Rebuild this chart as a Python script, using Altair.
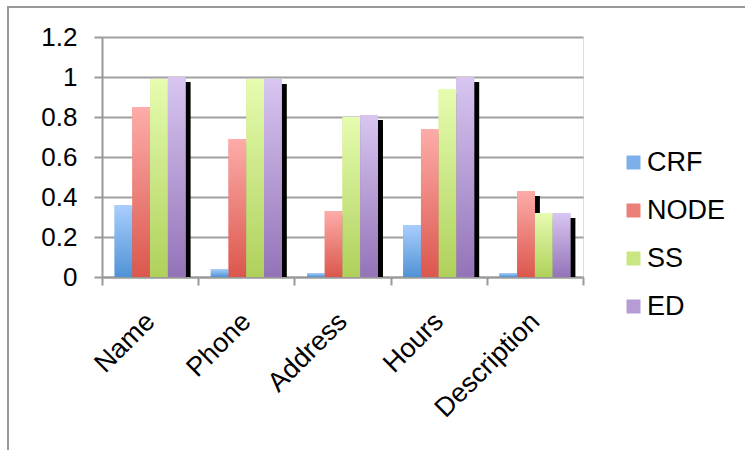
import altair as alt
import pandas as pd

categories = ["Name", "Phone", "Address", "Hours", "Description"]
series = ["CRF", "NODE", "SS", "ED"]
crf = [0.36, 0.04, 0.02, 0.26, 0.02]
node = [0.85, 0.69, 0.33, 0.74, 0.43]
ss = [0.99, 0.99, 0.80, 0.94, 0.32]
ed = [1.00, 0.99, 0.81, 1.00, 0.32]

values = {"CRF": crf, "NODE": node, "SS": ss, "ED": ed}
rows = []
for s in series:
    for c, v in zip(categories, values[s]):
        rows.append({"cat": c, "series": s, "value": v})
df = pd.DataFrame(rows)

tops = {"CRF": "#a9cefd", "NODE": "#fdaca9", "SS": "#e6fcb0", "ED": "#d8c6f1"}
bottoms = {"CRF": "#5192d5", "NODE": "#db574d", "SS": "#afd15b", "ED": "#9473b8"}
mids = ["#7cb0ea", "#ec8079", "#cae683", "#b69cd5"]

FONT = "Liberation Sans"
FS = 26

x_enc = alt.X("cat:N", sort=categories, title=None,
              scale=alt.Scale(paddingInner=0, paddingOuter=0),
              axis=alt.Axis(labelAngle=-45, labelAlign="right", labelBaseline="middle",
                            labelFontSize=27, labelFont=FONT, labelColor="black",
                            labelPadding=32, tickBand="extent", tickSize=8,
                            tickColor="#999999", tickWidth=2, domainColor="#999999",
                            domainWidth=2, grid=False))
y_enc = alt.Y("value:Q", title=None,
              scale=alt.Scale(domain=[0, 1.2], nice=False),
              axis=alt.Axis(values=[0, 0.2, 0.4, 0.6, 0.8, 1.0, 1.2],
                            labelFontSize=FS, labelFont=FONT, labelColor="black",
                            labelPadding=17, tickSize=8, tickColor="#999999",
                            tickWidth=2, domainColor="#999999", domainWidth=2,
                            gridColor="#a0a0a0", gridWidth=2,
                            labelExpr="datum.value == 1 ? '1' : format(datum.value, '.1f') == '0.0' ? '0' : format(datum.value, '.1f')"))
xo_enc = alt.XOffset("series:N", sort=series,
                     scale=alt.Scale(domain=series, paddingOuter=0.71, paddingInner=0))
xo_shadow = alt.XOffset("series:N", sort=series,
                        scale=alt.Scale(domain=series, paddingOuter=0.71, paddingInner=0,
                                        range=[5, 101.2]))

base = alt.Chart(df).encode(x=x_enc, y=y_enc, xOffset=xo_enc)

shadow = alt.Chart(df).mark_bar(color="black", yOffset=5, clip=True).encode(
    x=x_enc, y=y_enc, xOffset=xo_shadow)

legend_layer = base.mark_bar().encode(
    color=alt.Color("series:N", sort=series,
                    scale=alt.Scale(domain=series, range=mids),
                    legend=alt.Legend(title=None, orient="none", legendX=518, legendY=112,
                                      symbolType="square", symbolSize=196,
                                      symbolStrokeWidth=0, labelFontSize=27,
                                      labelFont=FONT, labelColor="black",
                                      rowPadding=20, labelOffset=0))
)

grad_layers = []
for s in series:
    g = alt.Gradient(gradient="linear", x1=0, x2=0, y1=0, y2=1,
                     stops=[alt.GradientStop(offset=0, color=tops[s]),
                            alt.GradientStop(offset=1, color=bottoms[s])])
    grad_layers.append(base.transform_filter(alt.datum.series == s).mark_bar(fill=g))

frame_df = pd.DataFrame({"k": [0]})
frame_top = alt.Chart(frame_df).mark_rule(color="#999999", strokeWidth=2).encode(
    x=alt.value(-94), x2=alt.value(643), y=alt.value(-30))
frame_left = alt.Chart(frame_df).mark_rule(color="#999999", strokeWidth=2).encode(
    x=alt.value(-94), y=alt.value(-31), y2=alt.value(413))

bars = alt.layer(shadow, legend_layer, *grad_layers).resolve_scale(xOffset="independent")

chart = alt.layer(bars, frame_top, frame_left).properties(
    width=481, height=240, autosize="none",
    padding={"left": 102, "top": 37, "right": 162, "bottom": 173}
).configure_view(stroke=None).configure(background="white")

chart.save("out.html", embed_options={"renderer": "svg", "actions": False})
